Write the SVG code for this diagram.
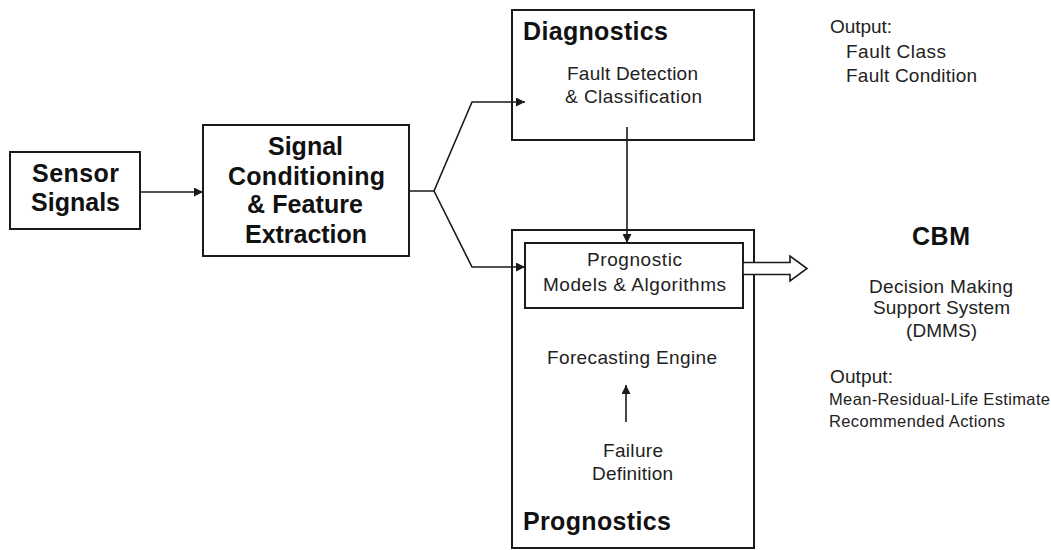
<svg xmlns="http://www.w3.org/2000/svg" width="1051" height="550" viewBox="0 0 1051 550">
  <style>
    .box { fill: #ffffff; stroke: #1a1a1a; stroke-width: 2; }
    .wire { fill: none; stroke: #1a1a1a; stroke-width: 1.6; }
    .title { font-family: "Liberation Sans", Arial, sans-serif; font-weight: bold; font-size: 25px; fill: #111; }
    .label { font-family: "Liberation Sans", Arial, sans-serif; font-size: 19px; fill: #222; }
    .small { font-family: "Liberation Sans", Arial, sans-serif; font-size: 16.5px; fill: #222; }
  </style>
  <defs>
    <marker id="head" viewBox="0 0 10 10" refX="10" refY="5" markerWidth="10" markerHeight="9" markerUnits="userSpaceOnUse" orient="auto">
      <path d="M0,0 L10,5 L0,10 Z" fill="#1a1a1a"/>
    </marker>
  </defs>
  <rect width="1051" height="550" fill="#ffffff"/>

  <!-- Sensor signals -->
  <g id="sensor-signals">
    <rect class="box" x="10" y="152" width="130" height="77"/>
    <text class="title" x="32" y="182" textLength="87">Sensor</text>
    <text class="title" x="31" y="211" textLength="89">Signals</text>
  </g>

  <!-- Signal conditioning -->
  <g id="signal-conditioning">
    <rect class="box" x="203" y="125" width="206" height="131"/>
    <text class="title" x="268" y="155" textLength="75">Signal</text>
    <text class="title" x="228" y="185" textLength="157">Conditioning</text>
    <text class="title" x="247" y="213" textLength="116">&amp; Feature</text>
    <text class="title" x="245" y="243" textLength="122">Extraction</text>
  </g>

  <!-- Diagnostics -->
  <g id="diagnostics">
    <rect class="box" x="512" y="10" width="242" height="130"/>
    <text class="title" x="523" y="40" textLength="145">Diagnostics</text>
    <text class="label" x="567" y="80" textLength="131">Fault Detection</text>
    <text class="label" x="565" y="103" textLength="137">&amp; Classification</text>
  </g>

  <!-- Prognostics -->
  <g id="prognostics">
    <rect class="box" x="512" y="230" width="242" height="318"/>
    <text class="label" x="547" y="364" textLength="170">Forecasting Engine</text>
    <text class="label" x="603" y="457" textLength="60">Failure</text>
    <text class="label" x="592" y="480" textLength="81">Definition</text>
    <text class="title" x="523" y="530" textLength="148">Prognostics</text>
  </g>

  <g id="prognostic-models">
    <rect class="box" x="525" y="243" width="218" height="65"/>
    <text class="label" x="587" y="266" textLength="95">Prognostic</text>
    <text class="label" x="543" y="291" textLength="183">Models &amp; Algorithms</text>
  </g>

  <!-- Decision support -->
  <g id="cbm">
    <text class="title" x="912" y="245" textLength="58">CBM</text>
    <text class="label" x="869" y="293" textLength="144">Decision Making</text>
    <text class="label" x="873" y="314" textLength="137">Support System</text>
    <text class="label" x="906" y="337" textLength="71">(DMMS)</text>
  </g>

  <g id="diagnostic-output">
    <text class="label" x="830" y="33" textLength="62">Output:</text>
    <text class="label" x="846" y="58" textLength="100">Fault Class</text>
    <text class="label" x="846" y="82" textLength="131">Fault Condition</text>
  </g>

  <g id="prognostic-output">
    <text class="label" x="830" y="383" textLength="63">Output:</text>
    <text class="small" x="829" y="405" textLength="221">Mean-Residual-Life Estimate</text>
    <text class="small" x="829" y="427" textLength="176">Recommended Actions</text>
  </g>

  <!-- Connectors -->
  <g id="connectors">
    <line class="wire" x1="140" y1="192" x2="203" y2="192" marker-end="url(#head)"/>
    <polyline class="wire" points="409,191 434,191 472,102 525,102" marker-end="url(#head)"/>
    <polyline class="wire" points="434,191 472,267 525,267" marker-end="url(#head)"/>
    <line class="wire" x1="627" y1="127" x2="627" y2="243" marker-end="url(#head)"/>
    <line class="wire" x1="626" y1="422" x2="626" y2="385" marker-end="url(#head)"/>
    <path d="M743,262.5 L790,262.5 L790,256 L807,268.5 L790,281 L790,274.5 L743,274.5 Z" fill="#ffffff" stroke="#1a1a1a" stroke-width="1.6" stroke-linejoin="miter"/>
  </g>
</svg>
